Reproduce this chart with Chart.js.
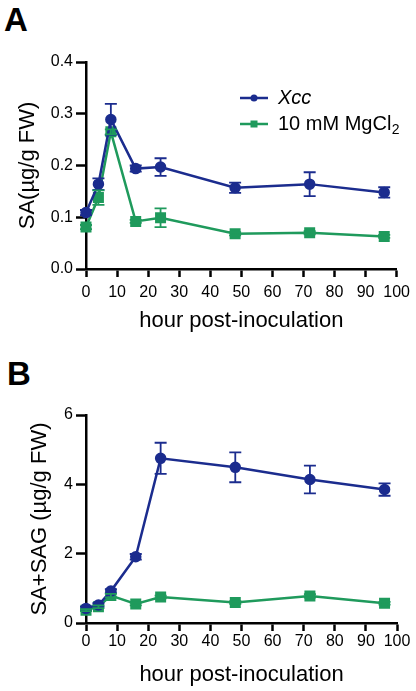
<!DOCTYPE html>
<html>
<head>
<meta charset="utf-8">
<script src="https://cdn.jsdelivr.net/npm/chart.js@4"></script>
<style>
  html, body { margin: 0; padding: 0; background: #fff; }
  body { width: 416px; height: 691px; position: relative; overflow: hidden; font-family: 'Liberation Sans', Arial, sans-serif; }
  .panel { position: absolute; left: 0; width: 416px; }
  .tag { position: absolute; font-weight: bold; font-size: 33px; color: #000; line-height: 1; }
</style>
</head>
<body>
<div class="tag" style="left:4px; top:3px;">A</div>
<div class="tag" style="left:7px; top:357px;">B</div>
<div class="panel" style="top:0; height:340px;"><canvas id="chartA" width="416" height="340"></canvas></div>
<div class="panel" style="top:340px; height:351px;"><canvas id="chartB" width="416" height="351"></canvas></div>
<script>
// sampling times (hours)
const hours = [0, 4, 8, 16, 24, 48, 72, 96];

// panel A: free SA
const saXcc = [0.109, 0.164, 0.289, 0.194, 0.197, 0.157, 0.164, 0.148];
const saXccErr = [0.005, 0.011, 0.030, 0.006, 0.017, 0.010, 0.023, 0.010];
const saMock = [0.081, 0.138, 0.265, 0.092, 0.099, 0.068, 0.070, 0.063];
const saMockErr = [0.004, 0.014, 0.005, 0.003, 0.018, 0.003, 0.003, 0.003];

// panel B: SA + SAG
const sagXcc = [0.42, 0.52, 0.92, 1.91, 4.75, 4.49, 4.14, 3.85];
const sagXccErr = [0.05, 0.05, 0.06, 0.08, 0.45, 0.43, 0.40, 0.18];
const sagMock = [0.37, 0.47, 0.79, 0.55, 0.75, 0.59, 0.78, 0.57];
const sagMockErr = [0.03, 0.04, 0.05, 0.04, 0.04, 0.04, 0.05, 0.04];

const BLUE = '#1b2c8e';
const GREEN = '#1f9a5c';
const FONT = "'Liberation Sans', Arial, sans-serif";

const toPoints = (vals) => hours.map((h, i) => ({ x: h, y: vals[i] }));

// error bars drawn through the chart scales
const errorBars = {
  id: 'errorBars',
  afterDatasetsDraw(chart) {
    const ctx = chart.ctx;
    const y = chart.scales.y;
    chart.data.datasets.forEach((ds, di) => {
      if (!ds.errors) return;
      const meta = chart.getDatasetMeta(di);
      ctx.save();
      ctx.strokeStyle = ds.borderColor;
      ctx.lineWidth = 1.8;
      meta.data.forEach((pt, i) => {
        const v = ds.data[i].y, e = ds.errors[i];
        const top = y.getPixelForValue(v + e);
        const bot = y.getPixelForValue(v - e);
        ctx.beginPath();
        ctx.moveTo(pt.x, top); ctx.lineTo(pt.x, bot);
        ctx.moveTo(pt.x - 6, top); ctx.lineTo(pt.x + 6, top);
        ctx.moveTo(pt.x - 6, bot); ctx.lineTo(pt.x + 6, bot);
        ctx.stroke();
      });
      ctx.restore();
    });
  }
};

// legend with italic Xcc and subscripted 2
const figLegend = {
  id: 'figLegend',
  afterDraw(chart) {
    if (!chart.options.plugins.figLegend.show) return;
    const ctx = chart.ctx;
    const rows = [
      { color: BLUE, style: 'circle', y: 98, parts: [['Xcc', 'italic 20px ' + FONT, 0]] },
      { color: GREEN, style: 'rect', y: 124, parts: [['10 mM MgCl', '20px ' + FONT, 0], ['2', '14px ' + FONT, 6]] }
    ];
    ctx.save();
    rows.forEach(r => {
      ctx.strokeStyle = r.color; ctx.fillStyle = r.color; ctx.lineWidth = 2.5;
      ctx.beginPath(); ctx.moveTo(240, r.y); ctx.lineTo(268, r.y); ctx.stroke();
      if (r.style === 'circle') { ctx.beginPath(); ctx.arc(254, r.y, 3.5, 0, Math.PI * 2); ctx.fill(); }
      else ctx.fillRect(250.5, r.y - 3.5, 7, 7);
      let x = 278;
      ctx.fillStyle = '#000'; ctx.textBaseline = 'middle';
      r.parts.forEach(([t, f, dy]) => {
        ctx.font = f; ctx.fillText(t, x, r.y + dy); x += ctx.measureText(t).width + 0.5;
      });
    });
    ctx.restore();
  }
};

function makeChart(id, cfg) {
  const xGrid = { drawOnChartArea: false, drawTicks: true, tickLength: 8, tickColor: '#000', tickWidth: 2.5, color: '#000' };
  const yGrid = { drawOnChartArea: false, drawTicks: true, tickLength: 10, tickColor: '#000', tickWidth: 2.5, color: '#000' };
  return new Chart(document.getElementById(id), {
    type: 'line',
    data: {
      datasets: [
        { label: 'Xcc', data: toPoints(cfg.xcc), errors: cfg.xccErr, borderColor: BLUE, backgroundColor: BLUE,
          borderWidth: 2.5, pointStyle: 'circle', pointRadius: 4.5, clip: false, tension: 0 },
        { label: '10 mM MgCl2', data: toPoints(cfg.mock), errors: cfg.mockErr, borderColor: GREEN, backgroundColor: GREEN,
          borderWidth: 2.5, pointStyle: 'rect', pointRadius: 6, clip: false, tension: 0 }
      ]
    },
    options: {
      responsive: false,
      animation: false,
      layout: { padding: { top: cfg.top, right: 19, left: 0, bottom: 0 } },
      plugins: { legend: { display: false }, tooltip: { enabled: false }, figLegend: { show: cfg.legend } },
      scales: {
        x: {
          type: 'linear', min: 0, max: 100,
          border: { color: '#000', width: 2.5 },
          grid: xGrid,
          ticks: { stepSize: 10, color: '#000', font: { family: FONT, size: 16 }, padding: cfg.xTickPad, maxRotation: 0, autoSkip: false },
          title: { display: true, text: 'hour post-inoculation', color: '#000', font: { family: FONT, size: 22 }, padding: { top: 0, bottom: cfg.xTitlePad } },
          afterFit: (s) => { s.height = cfg.xHeight; }
        },
        y: {
          min: 0, max: cfg.ymax,
          border: { color: '#000', width: 2.5 },
          grid: yGrid,
          ticks: { stepSize: cfg.ystep, color: '#000', font: { family: FONT, size: 16 }, padding: 3,
                   callback: (v) => cfg.ydec ? v.toFixed(cfg.ydec) : v },
          title: { display: true, text: cfg.ytitle, color: '#000', font: { family: FONT, size: 22 }, padding: { top: cfg.yTitlePad, bottom: 0 } },
          afterFit: (s) => { s.width = 86; }
        }
      }
    },
    plugins: [errorBars, figLegend]
  });
}

makeChart('chartA', {
  xcc: saXcc, xccErr: saXccErr, mock: saMock, mockErr: saMockErr,
  ymax: 0.4, ystep: 0.1, ydec: 1, ytitle: 'SA(\u00b5g/g FW)',
  top: 62, xHeight: 71, xTickPad: 6, xTitlePad: 6, yTitlePad: 15, legend: true
});

makeChart('chartB', {
  xcc: sagXcc, xccErr: sagXccErr, mock: sagMock, mockErr: sagMockErr,
  ymax: 6, ystep: 2, ydec: 0, ytitle: 'SA+SAG (\u00b5g/g FW)',
  top: 75, xHeight: 68, xTickPad: 1, xTitlePad: 3, yTitlePad: 27, legend: false
});
</script>
</body>
</html>
